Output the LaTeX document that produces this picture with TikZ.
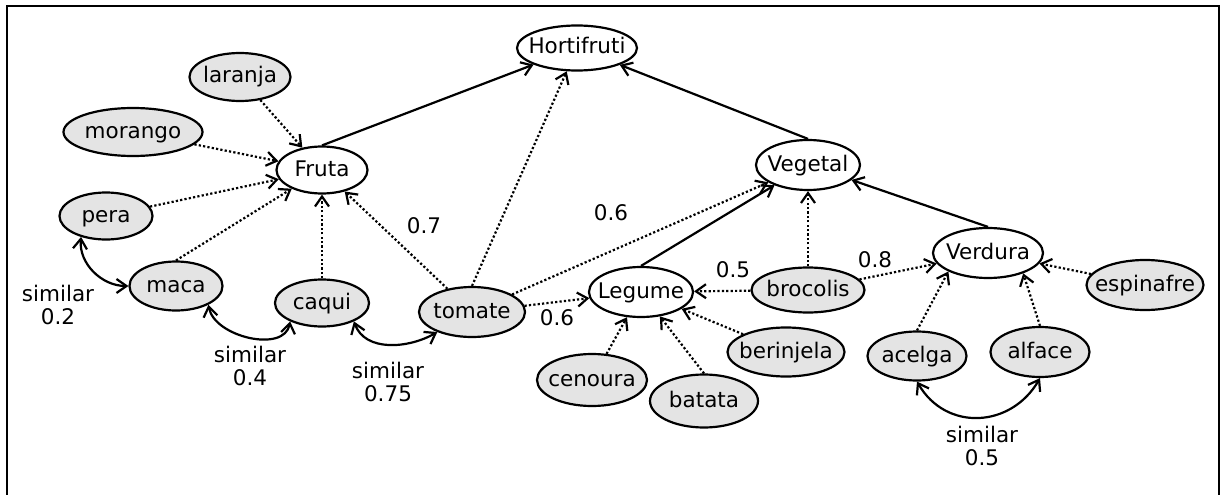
\documentclass[tikz,border=0pt]{standalone}
\usepackage{fontspec}
\setmainfont{DejaVu Sans}
\usetikzlibrary{shapes.geometric,arrows.meta}
\definecolor{leafgray}{RGB}{228,228,228}

\begin{document}
\begin{tikzpicture}[x=1pt,y=1pt,
  every node/.style={font=\fontsize{21.5}{23}\selectfont},
  concept/.style={ellipse,draw,line width=2.2pt,fill=white,inner sep=-20pt,text height=16pt,text depth=4pt},
  leaf/.style={concept,fill=leafgray},
  edge/.style={line width=2.2pt,-{Straight Barb[length=10pt,width=14pt]}},
  sub/.style={edge,dash pattern=on 2.2pt off 2.2pt},
  sim/.style={line width=2.2pt,{Straight Barb[length=10pt,width=14pt]}-{Straight Barb[length=10pt,width=14pt]}},
  num/.style={align=center}]
\useasboundingbox (0,0) rectangle (1221,-495);
\draw[line width=2.4pt] (7,-495) -- (7,-6) -- (1219,-6) -- (1219,-495);

\node[concept,minimum width=120pt,minimum height=45pt] (hortifruti) at (577,-48) {Hortifruti};
\node[concept,minimum width=91pt,minimum height=47pt] (fruta) at (322,-170) {Fruta};
\node[concept,minimum width=104pt,minimum height=50pt] (vegetal) at (808,-165) {Vegetal};
\node[concept,minimum width=104pt,minimum height=50pt] (legume) at (641,-292) {Legume};
\node[concept,minimum width=110pt,minimum height=50pt] (verdura) at (988,-253) {Verdura};

\node[leaf,minimum width=101pt,minimum height=48pt] (laranja) at (240,-77) {laranja};
\node[leaf,minimum width=139pt,minimum height=48pt] (morango) at (133,-132) {morango};
\node[leaf,minimum width=93pt,minimum height=47pt] (pera) at (106,-216) {pera};
\node[leaf,minimum width=93pt,minimum height=49pt] (maca) at (176,-286) {maca};
\node[leaf,minimum width=94pt,minimum height=47pt] (caqui) at (322,-303) {caqui};
\node[leaf,minimum width=106pt,minimum height=50pt] (tomate) at (472,-312) {tomate};
\node[leaf,minimum width=113pt,minimum height=45pt] (brocolis) at (808,-290) {brocolis};
\node[leaf,minimum width=117pt,minimum height=49pt] (berinjela) at (786,-352) {berinjela};
\node[leaf,minimum width=110pt,minimum height=52pt] (cenoura) at (592,-380) {cenoura};
\node[leaf,minimum width=108pt,minimum height=53pt] (batata) at (704,-401) {batata};
\node[leaf,minimum width=117pt,minimum height=50pt] (espinafre) at (1145,-285) {espinafre};
\node[leaf,minimum width=99pt,minimum height=49pt] (acelga) at (917,-356) {acelga};
\node[leaf,minimum width=99pt,minimum height=50pt] (alface) at (1040,-352) {alface};

\draw[edge] (fruta.north) -- (hortifruti);
\draw[edge] (vegetal.north) -- (hortifruti);
\draw[edge] (legume.north) -- (vegetal);
\draw[edge] (verdura.north) -- (vegetal);

\draw[sub] (laranja) -- (fruta);
\draw[sub] (morango) -- (fruta);
\draw[sub] (pera) -- (fruta);
\draw[sub] (maca.north) -- (fruta);
\draw[sub] (caqui) -- (fruta);
\draw[sub] (tomate) -- (fruta);
\draw[sub] (tomate.north) -- (hortifruti);
\draw[sub] (tomate) -- (vegetal);
\draw[sub] (tomate) -- (legume);
\draw[sub] (brocolis) -- (legume);
\draw[sub] (brocolis) -- (vegetal);
\draw[sub] (brocolis) -- (verdura);
\draw[sub] (cenoura) -- (legume);
\draw[sub] (batata.north) -- (legume);
\draw[sub] (berinjela) -- (legume);
\draw[sub] (espinafre) -- (verdura);
\draw[sub] (acelga.north) -- (verdura.-155);
\draw[sub] (alface.north) -- (verdura.-30);

\draw[sim] (pera.220) to[out=-95,in=180] (maca.west);
\draw[sim] (maca.-30) to[out=-80,in=-100] (caqui.-150);
\draw[sim] (caqui.-30) to[out=-70,in=-150] (tomate.-150);
\draw[sim] (acelga.south) to[out=-60,in=-120,looseness=1.2] (alface.south);

\node[num] (sim02) at (58,-305) {similar\\0.2};
\node[num] (sim04) at (250,-366) {similar\\0.4};
\node[num] (sim075) at (388,-382) {similar\\0.75};
\node[num] (sim05) at (982,-446) {similar\\0.5};
\node (w07) at (424,-226) {0.7};
\node (w06a) at (611,-213) {0.6};
\node (w06b) at (557,-318) {0.6};
\node (w05) at (733,-270) {0.5};
\node (w08) at (875,-260) {0.8};
\end{tikzpicture}
\end{document}
